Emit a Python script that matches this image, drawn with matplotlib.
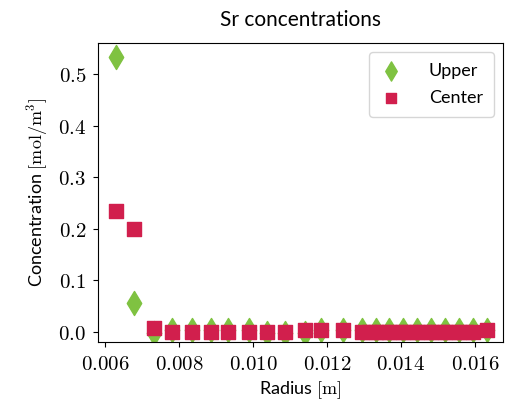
import matplotlib
matplotlib.use("Agg")
import matplotlib.pyplot as plt
from matplotlib.ticker import FuncFormatter

plt.rcParams['mathtext.fontset'] = 'cm'
plt.rcParams['font.family'] = ['Lato', 'DejaVu Sans']

# Upper series
upper_r = [0.00630, 0.00679, 0.00733, 0.00782, 0.00836, 0.00886, 0.00933, 0.00988,
           0.01037, 0.01086, 0.01141, 0.01183, 0.01244, 0.01294, 0.01332, 0.01369,
           0.01406, 0.01444, 0.01482, 0.01520, 0.01558, 0.01595, 0.01633]
upper_c = [0.534, 0.055, -0.002, 0.003, 0.003, 0.003, 0.003, 0.003,
           -0.002, -0.002, -0.002, 0.003, 0.003, 0.003, 0.003, 0.003,
           0.003, 0.003, 0.003, 0.003, 0.003, 0.003, 0.003]

# Center series
center_r = [0.00630, 0.00679, 0.00733, 0.00782, 0.00836, 0.00886, 0.00933, 0.00988,
            0.01037, 0.01086, 0.01141, 0.01183, 0.01244, 0.01294, 0.01313, 0.01332,
            0.01350, 0.01369, 0.01388, 0.01406, 0.01425, 0.01444, 0.01463, 0.01482,
            0.01501, 0.01520, 0.01539, 0.01558, 0.01577, 0.01595, 0.01633]
center_c = [0.234, 0.199, 0.008, 0.000, 0.000, 0.000, 0.000, 0.000,
            0.000, 0.000, 0.003, 0.003, 0.003, 0.000, 0.000, 0.000,
            0.000, 0.000, 0.000, 0.000, 0.000, 0.000, 0.000, 0.000,
            0.000, 0.000, 0.000, 0.000, 0.000, 0.000, 0.004]

fig = plt.figure(figsize=(5.09, 4.05), dpi=100)
ax = fig.add_axes([0.1925, 0.1556, 0.7955, 0.7382])

ax.scatter(upper_r, upper_c, marker='d', s=150, color='#7fc241', label='Upper')
ax.scatter(center_r, center_c, marker='s', s=90, color='#d11f4d', label='Center')

ax.set_xlim(0.00581, 0.016757)
ax.set_ylim(-0.020, 0.5608)
ax.set_xticks([0.006, 0.008, 0.010, 0.012, 0.014, 0.016])
ax.set_yticks([0.0, 0.1, 0.2, 0.3, 0.4, 0.5])
ax.xaxis.set_major_formatter(FuncFormatter(lambda v, p: f"${v:.3f}$"))
ax.yaxis.set_major_formatter(FuncFormatter(lambda v, p: f"${v:.1f}$"))
ax.tick_params(labelsize=15, pad=5)

ax.set_title("Sr concentrations", fontsize=15, pad=12)
ax.set_xlabel(r"Radius $[\mathrm{m}]$", fontsize=13, labelpad=4)
ax.set_ylabel(r"Concentration $[\mathrm{mol/m^3}]$", fontsize=13, labelpad=6)
ax.legend(loc='upper right', fontsize=13, markerscale=0.8, handlelength=1.2,
          handletextpad=1.5, borderpad=0.6, labelspacing=0.6)

fig.savefig("out.png", dpi=100)
